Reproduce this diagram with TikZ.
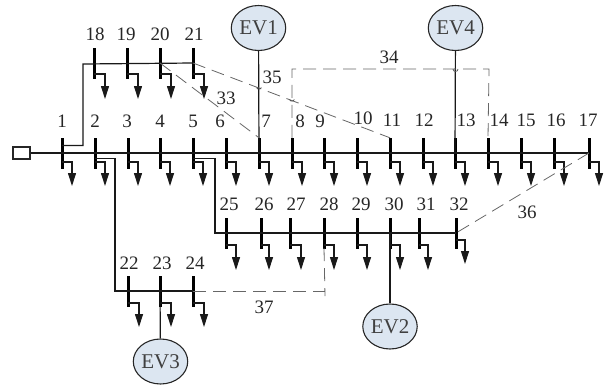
\documentclass[tikz,border=0pt]{standalone}
\usepackage{fontspec}
\setmainfont{Liberation Serif}
\usetikzlibrary{arrows.meta, calc, positioning, shapes.geometric}
\definecolor{evblue}{HTML}{DCE6F1}
\tikzset{
  busbar/.style={draw=black, fill=black, inner sep=0pt, minimum width=1.8pt, minimum height=30pt},
  lbl/.style={inner sep=0pt, font=\fontsize{19}{19}\selectfont, text=black!85},
  evunit/.style={ellipse, draw=black!85, line width=1.1pt, fill=evblue, minimum width=50pt, minimum height=45pt, inner sep=0pt, font=\fontsize{21}{21}\selectfont, text=black!75},
  feeder/.style={draw=black!90, line width=1.2pt},
  tie/.style={draw=black!60, line width=0.8pt, dash pattern=on 13pt off 7pt},
  hop/.style={draw=black!70, line width=0.7pt},
  loadarrow/.style={draw=black!90, line width=1.1pt, -{Triangle[length=13pt,width=8pt]}}
}
\begin{document}
\begin{tikzpicture}[x=1pt,y=-1pt]
  \useasboundingbox (0,0) rectangle (609,386);

  % Source
  \node[draw=black!85, line width=1.1pt, minimum width=17pt, minimum height=12pt, inner sep=0pt] (src) at (21.5,153) {};

  % Main feeder
  \foreach \n/\x/\lx/\ly in {1/62/62/121,2/95/95/121,3/128/127/121,4/160/160/121,5/193/193/121,6/226/220/121,7/259/266/121,8/292/300/121,9/324/320/121,10/357/363/118,11/390/392/120,12/423/424/120,13/455/466/120,14/488/499/120,15/521/526/120,16/554/556/120,17/589/588/120}{
    \node[busbar] (b\n) at (\x,153) {};
    \node[lbl] (l\n) at (\lx,\ly) {\n};
    \draw[loadarrow] ($(b\n)+(0,9)$) -| ($(b\n)+(10,33)$);
  }
  \draw[feeder] (src) -- (b17.center);

  % Lateral 18-21
  \foreach \n/\x/\lx in {18/94/95,19/127/126,20/160/160,21/193/194}{
    \node[busbar] (b\n) at (\x,63) {};
    \node[lbl] (l\n) at (\lx,34) {\n};
    \draw[loadarrow] ($(b\n)+(0,11)$) -| ($(b\n)+(11,36)$);
  }
  \coordinate (c1) at (83,64);
  \draw[feeder] ($(b1)+(0,-7.5)$) -| (c1) -- (b21.center);

  % Lateral 22-24
  \foreach \n/\x/\lx in {22/128/129,23/160/162,24/193/195}{
    \node[busbar] (b\n) at (\x,291) {};
    \node[lbl] (l\n) at (\lx,263) {\n};
    \draw[loadarrow] ($(b\n)+(0,12)$) -| ($(b\n)+(11,36)$);
  }
  \coordinate (c2) at (115,291);
  \draw[feeder] ($(b2)+(0,5.5)$) -| (c2) -- (b24.center);

  % Lateral 25-32
  \foreach \n/\x/\lx/\dx/\sy/\ey in {25/226/229/10/12/37,26/261/264/8/12/37,27/290/296/11/12/37,28/324/329/10/12/37,29/357/361/10/12/37,30/390/394/10/12/37,31/419/426/9/12/37,32/456/459/9/7/31}{
    \node[busbar] (b\n) at (\x,233) {};
    \node[lbl] (l\n) at (\lx,204) {\n};
    \draw[loadarrow] ($(b\n)+(0,\sy)$) -| ($(b\n)+(\dx,\ey)$);
  }
  \coordinate (c3) at (215,233);
  \draw[feeder] ($(b5)+(0,5.5)$) -| (c3) -- (b32.center);

  % EV stations
  \node[evunit] (ev1) at (258.5,28) {EV1};
  \node[evunit] (ev4) at (455.5,28) {EV4};
  \node[evunit] (ev3) at (160.5,361.5) {EV3};
  \node[evunit] (ev2) at (390,326.5) {EV2};
  \draw[feeder] (ev1) -- (b7.center);
  \draw[feeder] (ev4) -- (b13.center);
  \draw[feeder] (ev3) -- (b23.center);
  \draw[feeder] (ev2) -- (b30.center);

  % Tie lines
  \draw[tie] (b20.center) -- (b7.north);
  \draw[tie] (b21.center) -- (b11.north);
  \coordinate (t1) at (292,69);
  \coordinate (t2) at (489,69);
  \draw[tie] (b8.north) -- (t1) -- (t2) -- (b14.north);
  \draw[tie] (b17.center) -- (b32.center);
  \coordinate (t3) at (325,291);
  \draw[tie] (b24.center) -- (t3);
  \coordinate (t4) at (325,296);
  \draw[tie] (b28.south) -- (t4);

  % Hops
  \draw[hop] (256.5,87.5) arc (160:20:2.6);
  \draw[hop] (289.5,99.5) arc (160:20:2.6);
  \draw[hop] (453,69) arc (180:0:2.5);

  % Tie labels
  \node[lbl] (l33) at (226,98) {33};
  \node[lbl] (l34) at (389,57) {34};
  \node[lbl] (l35) at (272,77) {35};
  \node[lbl] (l36) at (527,212) {36};
  \node[lbl] (l37) at (264,307) {37};
\end{tikzpicture}
\end{document}
